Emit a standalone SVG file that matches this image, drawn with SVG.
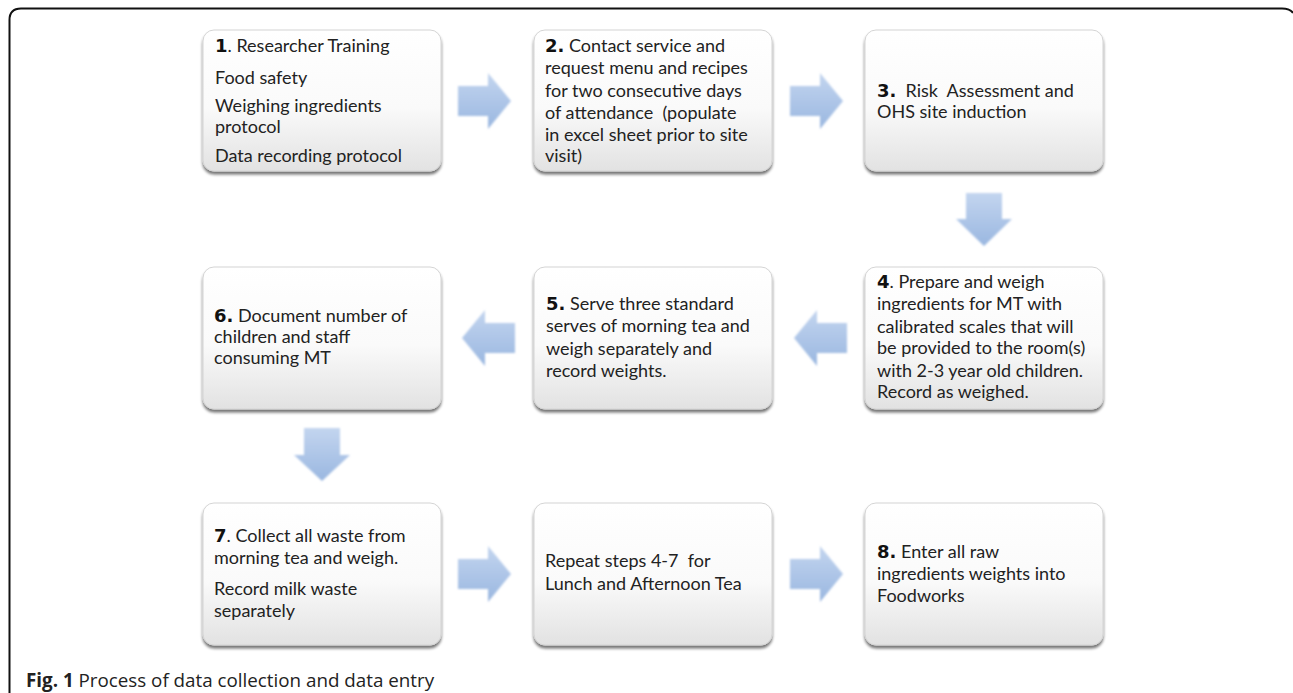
<svg xmlns="http://www.w3.org/2000/svg" width="1293" height="693" viewBox="0 0 1293 693">
<style>
.t{font-family:Lato,"Open Sans",sans-serif;font-size:18px;fill:#222;white-space:pre}
.n{font-family:"DejaVu Sans",sans-serif;font-weight:bold;font-size:18px;fill:#111}
.box{fill:url(#bg);stroke:#d4d4d4;stroke-width:1;filter:url(#sh)}
.arr{fill:url(#ag);filter:url(#soft)}
.cap{font-family:"Open Sans",sans-serif;font-size:18.8px;fill:#222}
</style>
<defs>
<linearGradient id="bg" x1="0" y1="0" x2="0" y2="1">
<stop offset="0" stop-color="#ffffff"/>
<stop offset="0.55" stop-color="#fafafa"/>
<stop offset="1" stop-color="#e2e2e2"/>
</linearGradient>
<linearGradient id="ag" x1="0" y1="0" x2="0" y2="1">
<stop offset="0" stop-color="#c3d5ef"/>
<stop offset="1" stop-color="#9ab7e0"/>
</linearGradient>
<filter id="sh" x="-10%" y="-10%" width="120%" height="130%">
<feGaussianBlur in="SourceAlpha" stdDeviation="1.6"/>
<feOffset dy="2.5" result="b"/>
<feComponentTransfer><feFuncA type="linear" slope="0.55"/></feComponentTransfer>
<feMerge><feMergeNode/><feMergeNode in="SourceGraphic"/></feMerge>
</filter>
<filter id="soft" x="-20%" y="-20%" width="140%" height="140%">
<feGaussianBlur in="SourceGraphic" stdDeviation="0.8"/>
</filter>
</defs>
<rect width="1293" height="693" fill="#ffffff"/>
<path d="M9.5,693 L9.5,20 Q9.5,8.5 21,8.5 L1282,8.5 Q1290,8.5 1293,13" fill="none" stroke="#111" stroke-width="2"/>

<g id="connectors">
<path class="arr" d="M458,86 L488,86 L488,73 L511,101 L488,129 L488,116 L458,116 Z"/>
<path class="arr" d="M790,86 L820,86 L820,73 L843,101 L820,129 L820,116 L790,116 Z"/>
<path class="arr" d="M966,193 L1002,193 L1002,219 L1012,219 L984,246 L956,219 L966,219 Z"/>
<path class="arr" d="M847,323 L817,323 L817,310 L794,338 L817,366 L817,353 L847,353 Z"/>
<path class="arr" d="M515,323 L485,323 L485,310 L462,338 L485,366 L485,353 L515,353 Z"/>
<path class="arr" d="M304,428 L340,428 L340,455 L350,455 L322,481 L294,455 L304,455 Z"/>
<path class="arr" d="M458,559 L488,559 L488,546 L511,574 L488,602 L488,589 L458,589 Z"/>
<path class="arr" d="M790,559 L820,559 L820,546 L843,574 L820,602 L820,589 L790,589 Z"/>
</g>

<g id="n1">
<rect class="box" x="203" y="30" width="238" height="141" rx="11"/>
<text class="t" x="215" y="52"><tspan class="n">1</tspan>. Researcher Training</text>
<text class="t" x="215" y="84">Food safety</text>
<text class="t" x="215" y="112">Weighing ingredients</text>
<text class="t" x="215" y="133">protocol</text>
<text class="t" x="215" y="162">Data recording protocol</text>
</g>
<g id="n2">
<rect class="box" x="534" y="30" width="238" height="141" rx="11"/>
<text class="t" x="545" y="52"><tspan class="n">2.</tspan> Contact service and</text>
<text class="t" x="545" y="74">request menu and recipes</text>
<text class="t" x="545" y="97">for two consecutive days</text>
<text class="t" x="545" y="119">of attendance  (populate</text>
<text class="t" x="545" y="141">in excel sheet prior to site</text>
<text class="t" x="545" y="162">visit)</text>
</g>
<g id="n3">
<rect class="box" x="865" y="30" width="238" height="141" rx="11"/>
<text class="t" x="877" y="97"><tspan class="n">3.</tspan>  Risk  Assessment and</text>
<text class="t" x="877" y="118">OHS site induction</text>
</g>
<g id="n4">
<rect class="box" x="865" y="267" width="238" height="142" rx="11"/>
<text class="t" x="877" y="288"><tspan class="n">4</tspan>. Prepare and weigh</text>
<text class="t" x="877" y="310">ingredients for MT with</text>
<text class="t" x="877" y="333">calibrated scales that will</text>
<text class="t" x="877" y="354">be provided to the room(s)</text>
<text class="t" x="877" y="377">with 2-3 year old children.</text>
<text class="t" x="877" y="398">Record as weighed.</text>
</g>
<g id="n5">
<rect class="box" x="534" y="267" width="238" height="142" rx="11"/>
<text class="t" x="546" y="310"><tspan class="n">5.</tspan> Serve three standard</text>
<text class="t" x="546" y="332">serves of morning tea and</text>
<text class="t" x="546" y="355">weigh separately and</text>
<text class="t" x="546" y="377">record weights.</text>
</g>
<g id="n6">
<rect class="box" x="203" y="267" width="238" height="142" rx="11"/>
<text class="t" x="214" y="322"><tspan class="n">6.</tspan> Document number of</text>
<text class="t" x="214" y="343">children and staff</text>
<text class="t" x="214" y="364">consuming MT</text>
</g>
<g id="n7">
<rect class="box" x="203" y="503" width="238" height="142" rx="11"/>
<text class="t" x="214" y="542"><tspan class="n">7</tspan>. Collect all waste from</text>
<text class="t" x="214" y="564">morning tea and weigh.</text>
<text class="t" x="214" y="595">Record milk waste</text>
<text class="t" x="214" y="617">separately</text>
</g>
<g id="n8">
<rect class="box" x="534" y="503" width="238" height="142" rx="11"/>
<text class="t" x="545" y="567">Repeat steps 4-7  for</text>
<text class="t" x="545" y="590">Lunch and Afternoon Tea</text>
</g>
<g id="n9">
<rect class="box" x="865" y="503" width="238" height="142" rx="11"/>
<text class="t" x="877" y="558"><tspan class="n">8.</tspan> Enter all raw</text>
<text class="t" x="877" y="580">ingredients weights into</text>
<text class="t" x="877" y="602">Foodworks</text>
</g>

<text class="cap" x="26" y="687"><tspan font-weight="bold">Fig. 1</tspan> Process of data collection and data entry</text>
</svg>
